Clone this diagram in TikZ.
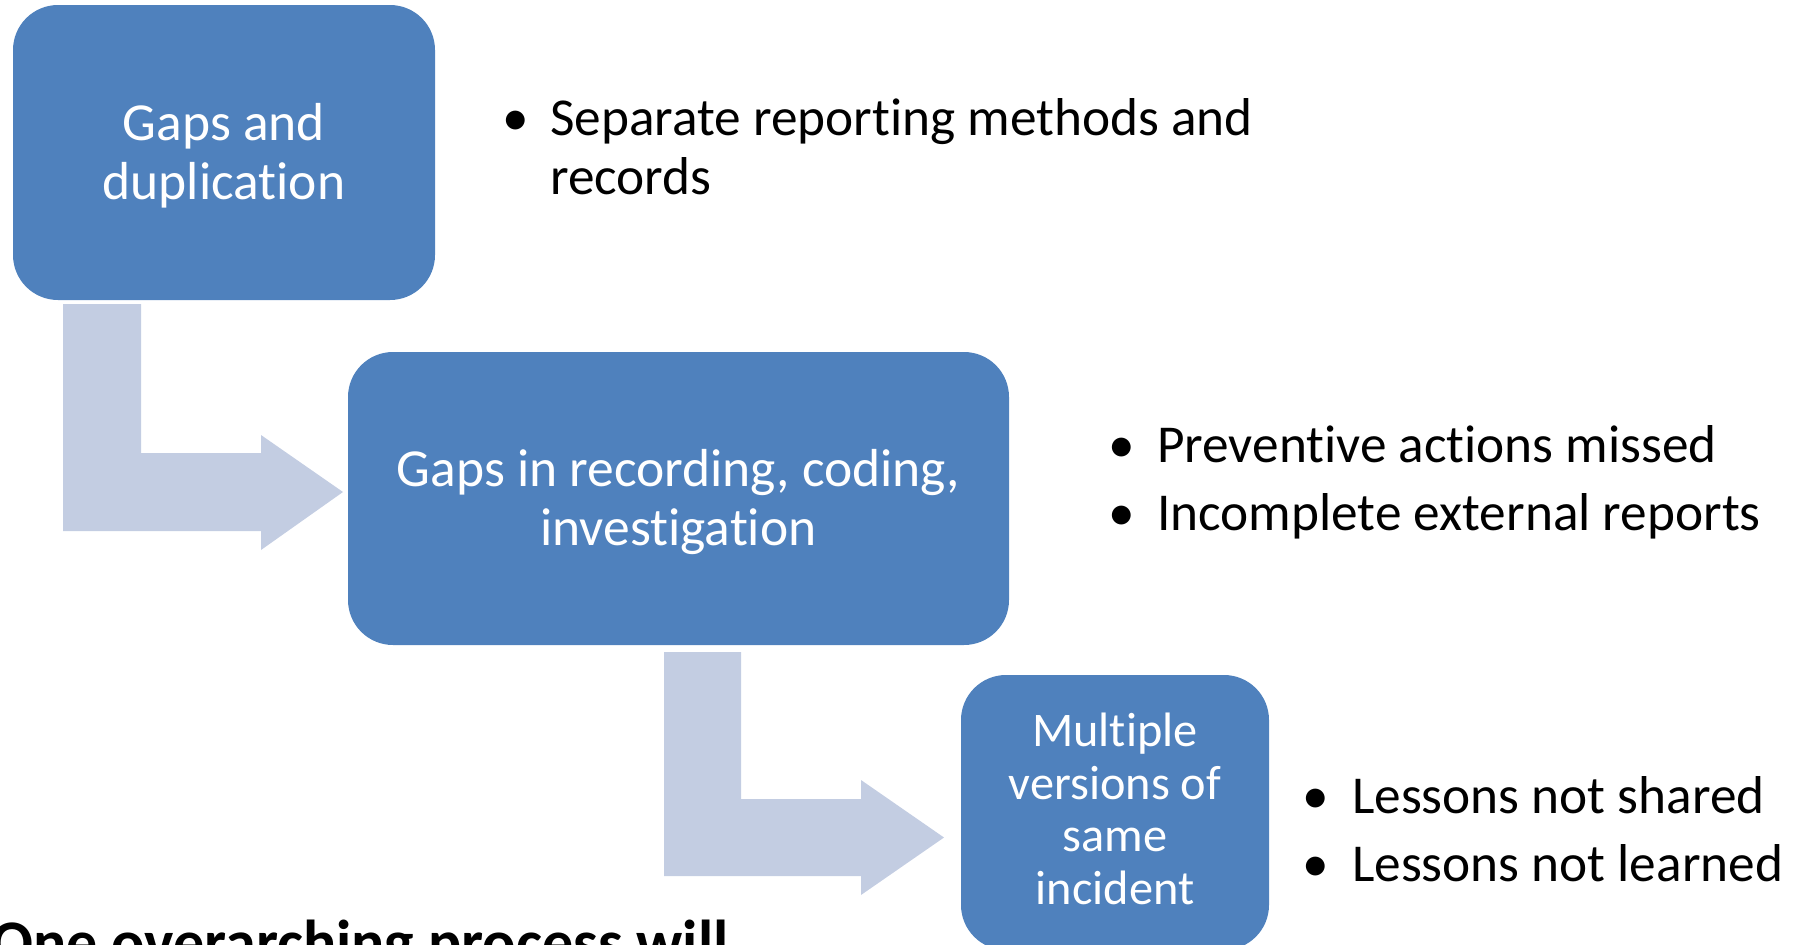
\documentclass[tikz,border=0pt]{standalone}
\usepackage{fontspec}
\setmainfont{Carlito}[Ligatures=NoCommon]
\definecolor{boxblue}{HTML}{4F81BD}
\definecolor{arrowgrey}{HTML}{C3CDE2}
\tikzset{
  stepbox/.style={fill=boxblue, draw=none, rounded corners=45pt, inner sep=0pt},
  steplabel/.style={text=white, align=center, inner sep=0pt, font=\fontsize{53.5}{59}\selectfont},
  smalllabel/.style={steplabel, font=\fontsize{48.3}{52.7}\selectfont},
  bentarrow/.style={fill=arrowgrey, draw=none},
  pointtext/.style={anchor=base west, inner sep=0pt, font=\fontsize{53.3}{59}\selectfont},
  pointmark/.style={anchor=base, inner sep=0pt, font=\fontsize{53.3}{59}\selectfont},
}
\begin{document}
\begin{tikzpicture}[x=1pt,y=-1pt]
\useasboundingbox (0,0) rectangle (1794,945);
\clip (0,0) rectangle (1794,945);

% process steps
\node[stepbox, minimum width=422pt, minimum height=295pt] (gaps) at (224,152.5) {};
\node[steplabel] (gaps-text) at ([yshift=-3pt]gaps.center) {Gaps and\\duplication};
\node[stepbox, minimum width=661pt, minimum height=293pt] (record) at (678.5,498.5) {};
\node[steplabel] (record-text) at ([yshift=-3.5pt]record.center) {Gaps in recording, coding,\\investigation};
\node[stepbox, minimum width=308pt, minimum height=275pt] (versions) at (1115,812.5) {};
\node[smalllabel] (versions-text) at ([yshift=3.5pt]versions.center) {Multiple\\versions of\\same\\incident};

% bent block arrows leading from one step to the next
\fill[bentarrow] (63,304) -- (141,304) -- (141,453) -- (261,453) -- (261,435)
  -- (343,492) -- (261,550) -- (261,531) -- (63,531) -- cycle;
\fill[bentarrow] (664,652) -- (741,652) -- (741,799) -- (861,799) -- (861,780)
  -- (944,837.5) -- (861,895) -- (861,876) -- (664,876) -- cycle;

% consequences of each step
\node[pointmark] (m1) at (516,135) {•};
\node[pointtext] (p1a) at (550,135) {Separate reporting methods and};
\node[pointtext] (p1b) at (550,194) {records};

\node[pointmark] (m2) at (1122,462) {•};
\node[pointtext] (p2) at (1157,462) {Preventive actions missed};
\node[pointmark] (m3) at (1122,530) {•};
\node[pointtext] (p3) at (1157,530) {Incomplete external reports};

\node[pointmark] (m4) at (1316,813) {•};
\node[pointtext] (p4) at (1352,813) {Lessons not shared};
\node[pointmark] (m5) at (1316,881) {•};
\node[pointtext] (p5) at (1352,881) {Lessons not learned};

% heading running off the lower edge
\node[anchor=base west, inner sep=0pt, font=\bfseries\fontsize{62}{70}\selectfont] (summary) at (-9,963) {One overarching process will};
\end{tikzpicture}
\end{document}
